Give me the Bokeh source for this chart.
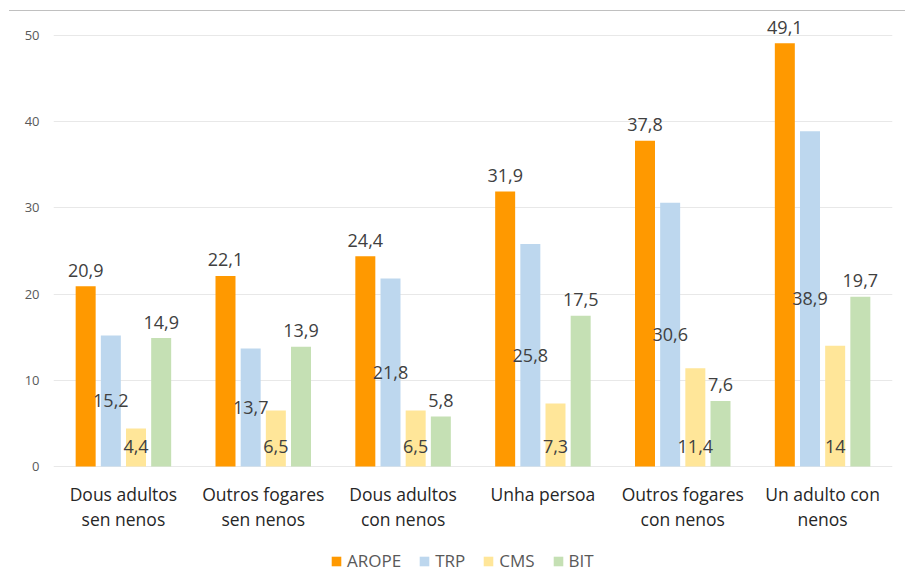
from bokeh.plotting import figure
from bokeh.models import (FactorRange, ColumnDataSource, FixedTicker, Range1d,
                          Legend, LegendItem)
from bokeh.transform import dodge
from bokeh.core.properties import value
from bokeh.embed import file_html
from bokeh.resources import INLINE

# ---- data ----
categories = ["Dous adultos sen nenos", "Outros fogares sen nenos", "Dous adultos con nenos",
              "Unha persoa", "Outros fogares con nenos", "Un adulto con nenos"]
label_line1 = ["Dous adultos", "Outros fogares", "Dous adultos",
               "Unha persoa", "Outros fogares", "Un adulto con"]
label_line2 = ["sen nenos", "sen nenos", "con nenos", "", "con nenos", "nenos"]
series_names = ["AROPE", "TRP", "CMS", "BIT"]
arope = [20.9, 22.1, 24.4, 31.9, 37.8, 49.1]
trp = [15.2, 13.7, 21.8, 25.8, 30.6, 38.9]
cms = [4.4, 6.5, 6.5, 7.3, 11.4, 14]
bit = [14.9, 13.9, 5.8, 17.5, 7.6, 19.7]
y_ticks = [0, 10, 20, 30, 40, 50]

colors = ["#FF9900", "#BDD7EE", "#FFE699", "#C5E0B4"]
offsets = [-0.27, -0.09, 0.09, 0.27]
FONT = "Open Sans"


def fmt(v):
    return ("%g" % v).replace(".", ",")


src = ColumnDataSource(dict(
    cat=categories,
    line1=label_line1, line2=label_line2,
    AROPE=arope, TRP=trp, CMS=cms, BIT=bit,
    AROPE_t=[fmt(v) for v in arope],
    TRP_t=[fmt(v) for v in trp],
    CMS_t=[fmt(v) for v in cms],
    BIT_t=[fmt(v) for v in bit],
    TRP_mid=[v / 2 for v in trp],
    zero=[0] * len(categories),
))

# frame extends below zero so that category labels and legend sit inside it
p = figure(x_range=FactorRange(*categories), y_range=Range1d(-12.30, 52.67),
           width=896, height=561, output_backend="svg", toolbar_location=None,
           min_border_left=44, min_border_right=13, min_border_top=1, min_border_bottom=0)
p.styles = {"border-top": "1px solid #C0C0C0", "margin-top": "10px", "margin-left": "9px"}

renderers = []
for name, col, off in zip(series_names, colors, offsets):
    r = p.vbar(x=dodge("cat", off, range=p.x_range), top=name, width=0.143, source=src,
               fill_color=col, line_color=None)
    renderers.append(r)

lab_color = "#404040"
common = dict(source=src, text_font=value(FONT), text_font_size="18px",
              text_color=lab_color, text_align="center")
# outside end labels
p.text(x=dodge("cat", offsets[0], range=p.x_range), y="AROPE", text="AROPE_t",
       text_baseline="alphabetic", y_offset=-16, **common)
p.text(x=dodge("cat", offsets[3], range=p.x_range), y="BIT", text="BIT_t",
       text_baseline="alphabetic", y_offset=-16, **common)
# center labels
p.text(x=dodge("cat", offsets[1], range=p.x_range), y="TRP_mid", text="TRP_t",
       text_baseline="middle", **common)
# inside base labels
p.text(x=dodge("cat", offsets[2], range=p.x_range), y="zero", text="CMS_t",
       text_baseline="middle", y_offset=-20, **common)

# category labels (two lines) below the zero line
cat_style = dict(source=src, text_font=value(FONT), text_font_size="17.5px",
                 text_color="#262626", text_align="center", text_baseline="middle")
p.text(x="cat", y="zero", text="line1", y_offset=28, **cat_style)
p.text(x="cat", y="zero", text="line2", y_offset=53, **cat_style)

# axes
p.xaxis.visible = False
p.yaxis.ticker = FixedTicker(ticks=y_ticks)
p.yaxis.axis_line_color = None
p.yaxis.major_tick_in = 0
p.yaxis.major_tick_out = 0
p.yaxis.minor_tick_line_color = None
p.yaxis.major_label_standoff = 14
p.yaxis.major_label_text_font = FONT
p.yaxis.major_label_text_font_size = "13px"
p.yaxis.major_label_text_color = "#595959"

p.xgrid.grid_line_color = None
p.ygrid.ticker = FixedTicker(ticks=y_ticks)
p.ygrid.grid_line_color = "#E8E8E8"
p.ygrid.grid_line_width = 1
p.outline_line_color = None

lg = Legend(items=[LegendItem(label=n, renderers=[r]) for n, r in zip(series_names, renderers)],
            orientation="horizontal", location=(277, 0))
lg.border_line_color = None
lg.background_fill_alpha = 0
lg.padding = 0
lg.margin = 0
lg.spacing = 17
lg.label_standoff = 5
lg.glyph_width = 12
lg.glyph_height = 12
lg.label_text_font = FONT
lg.label_text_font_size = "17px"
lg.label_text_color = "#595959"
p.add_layout(lg, "center")

open("out.html", "w").write(file_html(p, INLINE))
